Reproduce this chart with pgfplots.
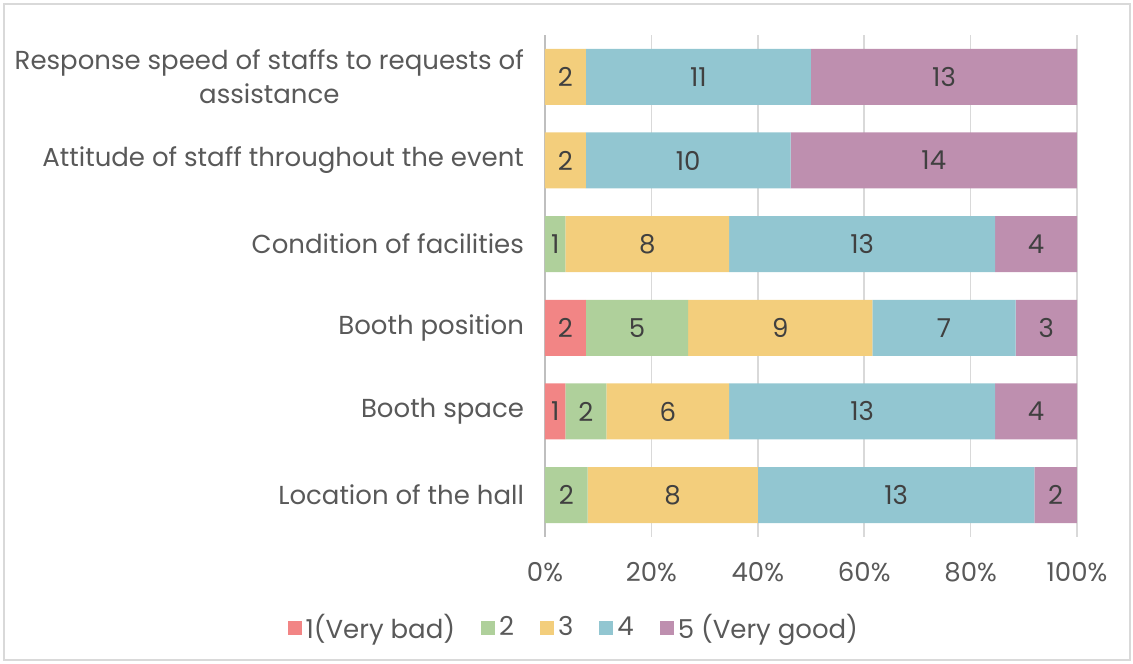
\documentclass[border=0pt]{standalone}
\usepackage{fontspec}
\setmainfont{Poppins}
\usepackage{pgfplots}
\usepackage{pgfplotstable}
\pgfplotsset{compat=1.18}
\usetikzlibrary{calc}

\definecolor{lvone}{HTML}{F28585}
\definecolor{lvtwo}{HTML}{AFD09B}
\definecolor{lvthree}{HTML}{F3CE7C}
\definecolor{lvfour}{HTML}{92C6D1}
\definecolor{lvfive}{HTML}{BE8FAF}
\definecolor{txtgray}{HTML}{595959}
\definecolor{numgray}{HTML}{404040}
\definecolor{axgray}{HTML}{BFBFBF}
\definecolor{gridgray}{HTML}{D9D9D9}
\definecolor{framegray}{HTML}{D9D9D9}

% answers per rating, rows bottom to top
\pgfplotstableread{
row c1 c2 c3 c4 c5 tot
0   0  2  8  13 2  25
1   1  2  6  13 4  26
2   2  5  9  7  3  26
3   0  1  8  13 4  26
4   0  0  2  10 14 26
5   0  0  2  11 13 26
}\survey

\pgfplotsset{
  frame/.style={
    scale only axis,
    width=266pt, height=251pt,
    xmin=0, xmax=100,
    ymin=-0.5, ymax=5.5,
    /pgf/number format/assume math mode=true,
  },
}

% count in the middle of its segment; #2 = counts before it
\newcommand{\seglabel}[2]{%
  \addplot[draw=none, mark=none, point meta=explicit,
    nodes near coords={\pgfmathfloatifflags{\pgfplotspointmeta}{0}{}{\pgfmathprintnumber{\pgfplotspointmeta}}},
    every node near coord/.append style={anchor=center, text=numgray},
  ] table[x expr=(#2+\thisrow{#1}/2)/\thisrow{tot}*100, y=row, meta=#1] {\survey};
}

\begin{document}
\begin{tikzpicture}[font=\fontsize{13}{17}\selectfont]
\begin{axis}[
  name=ax, frame,
  xbar stacked,
  bar width=28pt,
  ytick={0,...,5},
  yticklabels={Location of the hall, Booth space, Booth position,
    Condition of facilities, Attitude of staff throughout the event,
    {Response speed of staffs to requests of\\assistance}},
  yticklabel style={align=center, text=txtgray, xshift=-7pt},
  xtick={0,20,...,100},
  xticklabel={\pgfmathprintnumber{\tick}\%},
  xticklabel style={text=txtgray, yshift=-9pt},
  major tick length=0pt,
  axis x line*=bottom, axis y line*=left,
  x axis line style={draw=none},
  y axis line style={draw=axgray, line width=1pt, -},
  xmajorgrids,
  grid style={draw=gridgray, line width=0.75pt},
  legend columns=5,
  legend style={draw=none, fill=none, text=txtgray,
    at={(axis description cs:0.056,-0.181)}, anchor=center,
    /tikz/every even column/.append style={column sep=11pt},
    /tikz/every odd column/.append style={column sep=0pt}},
  legend image code/.code={\fill[#1] (0pt,-3.5pt) rectangle (7pt,3.5pt);},
  clip=false,
]
\addplot[fill=lvone, draw=none] table[x expr=\thisrow{c1}/\thisrow{tot}*100, y=row] {\survey};
\addplot[fill=lvtwo, draw=none] table[x expr=\thisrow{c2}/\thisrow{tot}*100, y=row] {\survey};
\addplot[fill=lvthree, draw=none] table[x expr=\thisrow{c3}/\thisrow{tot}*100, y=row] {\survey};
\addplot[fill=lvfour, draw=none] table[x expr=\thisrow{c4}/\thisrow{tot}*100, y=row] {\survey};
\addplot[fill=lvfive, draw=none] table[x expr=\thisrow{c5}/\thisrow{tot}*100, y=row] {\survey};
\legend{1(Very bad), 2, 3, 4, 5 (Very good)}
\end{axis}
\begin{axis}[frame, hide axis, clip=false]
\seglabel{c1}{0}
\seglabel{c2}{\thisrow{c1}}
\seglabel{c3}{\thisrow{c1}+\thisrow{c2}}
\seglabel{c4}{\thisrow{c1}+\thisrow{c2}+\thisrow{c3}}
\seglabel{c5}{\thisrow{c1}+\thisrow{c2}+\thisrow{c3}+\thisrow{c4}}
\end{axis}
\draw[framegray, line width=0.6pt]
  ($(ax.south west)+(-270.5pt,-61.5pt)$) rectangle ($(ax.north east)+(26.5pt,15.5pt)$);
\useasboundingbox
  ($(ax.south west)+(-272.5pt,-63.5pt)$) rectangle ($(ax.north east)+(28pt,17.5pt)$);
\end{tikzpicture}
\end{document}
